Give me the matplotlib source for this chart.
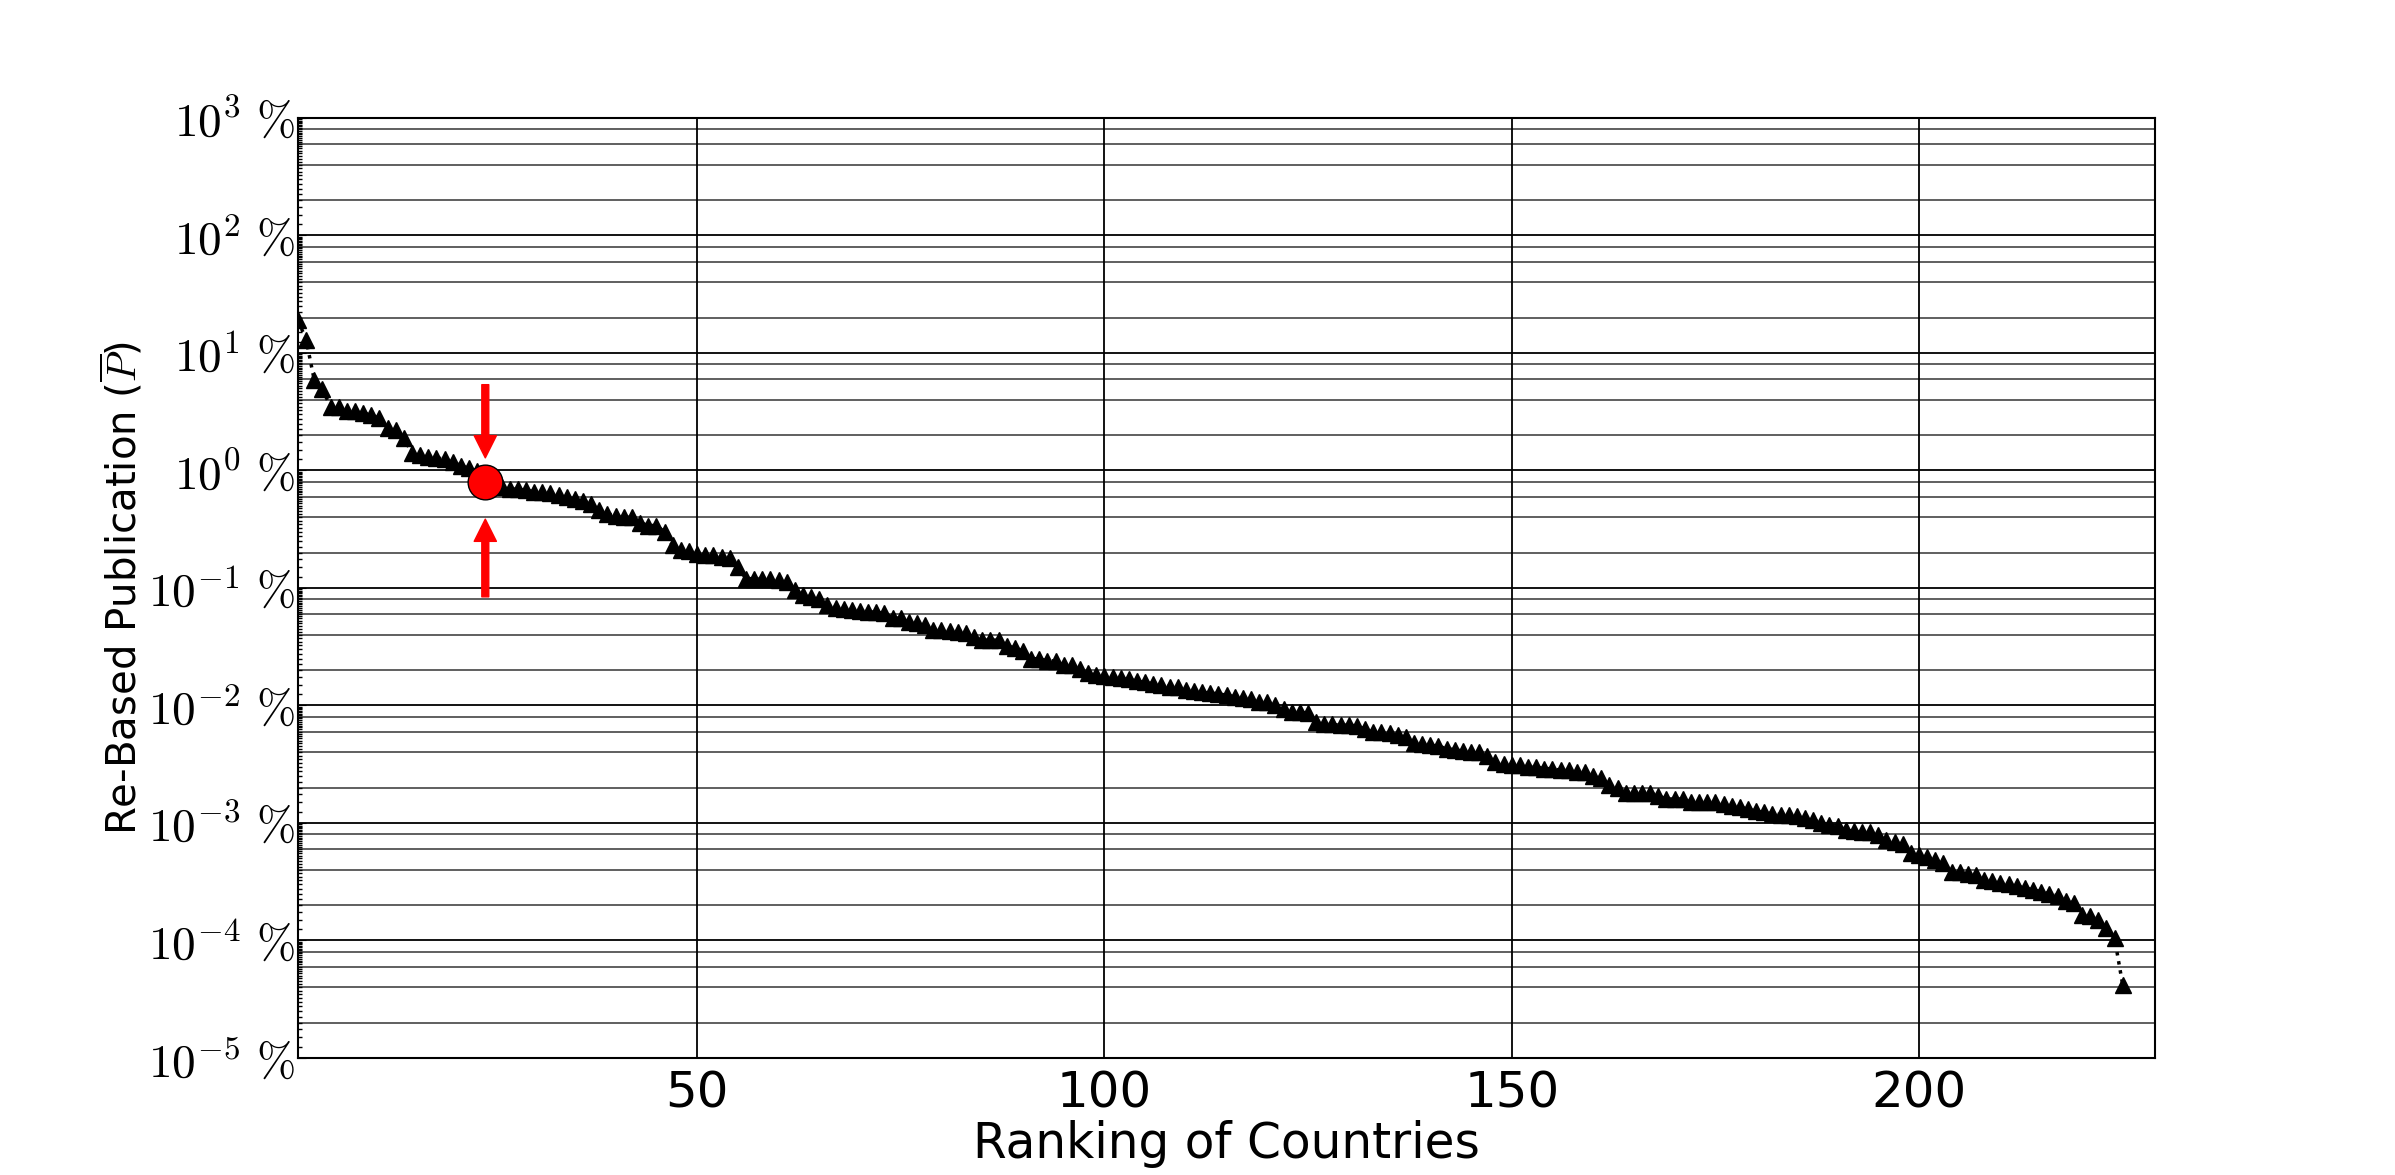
import numpy as np
import matplotlib
matplotlib.use('Agg')
import matplotlib.pyplot as plt
from matplotlib.ticker import LogLocator, FuncFormatter, NullFormatter

# re-based publication share (%) of each country, sorted by rank
rebased_pct = [
    19, 13, 5.9, 4.9, 3.5, 3.5, 3.2, 3.2, 3.1, 2.95,
    2.8, 2.3, 2.2, 1.9, 1.4, 1.35, 1.3, 1.28, 1.25, 1.18,
    1.1, 1.04, 0.99, 0.79, 0.76, 0.72, 0.70, 0.69, 0.68, 0.66,
    0.65, 0.64, 0.62, 0.60, 0.57, 0.55, 0.52, 0.46, 0.43, 0.41,
    0.40, 0.40, 0.36, 0.34, 0.34, 0.30, 0.23, 0.21, 0.205, 0.195,
    0.19, 0.19, 0.185, 0.18, 0.15, 0.12, 0.12, 0.12, 0.12, 0.118,
    0.113, 0.096, 0.087, 0.084, 0.080, 0.072, 0.068, 0.066, 0.065, 0.064,
    0.063, 0.062, 0.061, 0.056, 0.055, 0.051, 0.050, 0.048, 0.044, 0.044,
    0.043, 0.042, 0.041, 0.038, 0.036, 0.036, 0.036, 0.032, 0.031, 0.029,
    0.025, 0.025, 0.024, 0.024, 0.022, 0.022, 0.0205, 0.019, 0.018, 0.0178,
    0.0174, 0.017, 0.0168, 0.016, 0.0158, 0.0153, 0.0148, 0.0145, 0.0143, 0.0136,
    0.0134, 0.013, 0.0127, 0.0126, 0.0122, 0.0119, 0.0116, 0.0113, 0.0108, 0.0106,
    0.0101, 0.0093, 0.0088, 0.0088, 0.0086, 0.0072, 0.0069, 0.0069, 0.0068, 0.0068,
    0.0067, 0.0063, 0.0060, 0.0059, 0.0058, 0.0056, 0.0054, 0.0048, 0.0047, 0.0046,
    0.0045, 0.0043, 0.0042, 0.0041, 0.0040, 0.0040, 0.0037, 0.0033, 0.0032, 0.0031,
    0.0031, 0.0030, 0.0030, 0.0029, 0.0029, 0.0028, 0.0028, 0.0027, 0.0027, 0.0025,
    0.0024, 0.0021, 0.0020, 0.0018, 0.0018, 0.0018, 0.0018, 0.0017, 0.0016, 0.0016,
    0.0016, 0.0015, 0.0015, 0.0015, 0.0015, 0.00145, 0.0014, 0.00137, 0.00131, 0.00126,
    0.00123, 0.0012, 0.00118, 0.00116, 0.00114, 0.0011, 0.00107, 0.0010, 0.00097, 0.00095,
    0.00087, 0.00085, 0.00083, 0.00083, 0.00079, 0.00072, 0.00069, 0.00066, 0.00056, 0.00053,
    0.00051, 0.00048, 0.00046, 0.00038, 0.00038, 0.00037, 0.00036, 0.00033, 0.00032, 0.00031,
    0.00030, 0.00029, 0.00028, 0.00027, 0.00026, 0.00025, 0.00024, 0.000215, 0.00021, 0.000165,
    0.00016, 0.00015, 0.000128, 0.000105, 0.000042,
]
ranks = list(range(1, len(rebased_pct) + 1))

# highlighted country
hl_rank = 24
hl_value = rebased_pct[hl_rank - 1]

xticks = [50, 100, 150, 200]


def pct_fmt(v, pos):
    return r'$10^{%d}\ \%%$' % int(round(np.log10(v)))


def main():
    plt.rcParams['mathtext.fontset'] = 'cm'

    fig = plt.figure(figsize=(23.95, 11.75), dpi=100)
    ax = fig.add_axes([0.1244, 0.0996, 0.7755, 0.8])

    ax.plot(ranks, rebased_pct, linestyle=':', color='black', linewidth=2.5,
            marker='^', markersize=12, markerfacecolor='black',
            markeredgecolor='black', zorder=3)

    # highlighted country with arrows
    ax.plot([hl_rank], [hl_value], marker='o', markersize=25, color='red',
            markeredgecolor='black', markeredgewidth=1, zorder=5)
    arrow = dict(facecolor='red', edgecolor='red', width=5, headwidth=16, headlength=16)
    ax.annotate('', xy=(hl_rank, hl_value * 1.62), xytext=(hl_rank, hl_value * 6.8),
                arrowprops=arrow, zorder=6)
    ax.annotate('', xy=(hl_rank, hl_value / 2.05), xytext=(hl_rank, hl_value / 9.4),
                arrowprops=arrow, zorder=6)

    ax.set_yscale('log')
    ax.set_ylim(1e-5, 1e3)
    ax.set_xlim(1, 229)

    ax.set_xticks(xticks)
    ax.yaxis.set_major_locator(LogLocator(base=10, numticks=20))
    ax.yaxis.set_major_formatter(FuncFormatter(pct_fmt))
    # dense fine ticks along the left spine
    ax.yaxis.set_minor_locator(LogLocator(base=10, subs=np.arange(1.25, 10.0, 0.25), numticks=20))
    ax.yaxis.set_minor_formatter(NullFormatter())

    ax.grid(True, which='major', axis='both', color='black', linewidth=1.3)
    # minor gridlines at 2, 4, 6, 8 of each decade
    for e in range(-5, 3):
        for s in (2, 4, 6, 8):
            ax.axhline(s * 10.0 ** e, color='#444444', linewidth=1.2, zorder=0.5)

    ax.tick_params(axis='x', which='major', direction='in', length=0, labelsize=36, pad=8)
    ax.tick_params(axis='y', which='major', direction='in', length=6, labelsize=34, pad=2)
    ax.tick_params(axis='y', which='minor', direction='in', length=3, width=1)

    for sp in ax.spines.values():
        sp.set_linewidth(1.5)
        sp.set_color('black')

    ax.set_xlabel('Ranking of Countries', fontsize=35, labelpad=2)
    ax.set_ylabel(r'Re-Based Publication ($\overline{P}$)', fontsize=29, labelpad=2)

    fig.savefig('out.png', dpi=100)


if __name__ == '__main__':
    main()
